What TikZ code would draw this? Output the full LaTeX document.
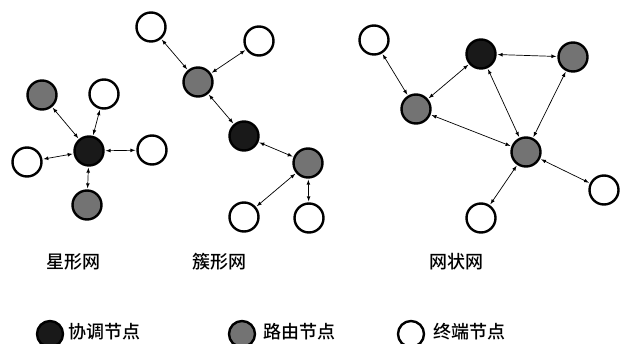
\documentclass[tikz,border=0pt]{standalone}
\usepackage{fontspec}
\newfontfamily\cjk{Noto Sans CJK SC Medium}[BoldFont={Noto Sans CJK SC Bold}]
\begin{document}
\begin{tikzpicture}
        [x=1pt, y=-1pt,
        nodeWhite/.style={circle,draw,line width=2.4pt,minimum size=29pt,inner sep=0pt,fill=white},
        nodeGray/.style={nodeWhite, fill=black!55},
        nodeBlack/.style={nodeWhite, fill=black!90},
        link/.style={<->, >=latex, line width=0.7pt, shorten <=1pt, shorten >=1pt},
        label/.style={font=\cjk\fontsize{18}{20}\selectfont, inner sep=0pt}]
        \useasboundingbox (0,0) rectangle (620,344);
        % star
        \node[nodeBlack] (S0) at (89,151) {};
        \node[nodeGray] (S1) at (42,95) {};
        \node[nodeWhite] (S2) at (104,94) {};
        \node[nodeWhite] (S3) at (27,162) {};
        \node[nodeWhite] (S4) at (152,150) {};
        \node[nodeGray] (S5) at (87,205) {};
        
        \draw[link] (S0) -- (S1);
        \draw[link] (S0) -- (S2);
        \draw[link] (S0) -- (S3);
        \draw[link] (S0) -- (S4);
        \draw[link] (S0) -- (S5);
        
        % cluster
        \node[nodeWhite] (C1) at (151,27) {};
        \node[nodeWhite] (C2) at (259,41) {};
        \node[nodeGray] (C3) at (198,82) {};
        \node[nodeBlack] (C0) at (244,136) {};
        \node[nodeGray] (C4) at (308,163) {};
        \node[nodeWhite] (C5) at (244,217) {};
        \node[nodeWhite] (C6) at (309,218) {};
        
        \draw[link] (C3) -- (C1);
        \draw[link] (C3) -- (C2);
        \draw[link] (C3) -- (C0);
        \draw[link] (C0) -- (C4);
        \draw[link] (C4) -- (C5);
        \draw[link] (C4) -- (C6);
        
        % mesh
        \node[nodeWhite] (M1) at (374,40) {};
        \node[nodeBlack] (M0) at (481,54) {};
        \node[nodeGray] (M2) at (573,57) {};
        \node[nodeGray] (M3) at (416,109) {};
        \node[nodeGray] (M4) at (526,152) {};
        \node[nodeWhite] (M5) at (604,190) {};
        \node[nodeWhite] (M6) at (481,218) {};
        
        \draw[link] (M3) -- (M1);
        \draw[link] (M3) -- (M0);
        \draw[link] (M0) -- (M2);
        \draw[link] (M0) -- (M4);
        \draw[link] (M2) -- (M4);
        \draw[link] (M3) -- (M4);
        \draw[link] (M4) -- (M5);
        \draw[link] (M4) -- (M6);
        
        \node[label] (T1) at (73,262) {星形网};
        \node[label] (T2) at (219,262) {簇形网};
        \node[label] (T3) at (456,262) {网状网};
        
        % legend
        \node[nodeBlack, minimum size=26pt] (L1) at (50,334) {};
        \node[label, anchor=west] (L1t) at (68,332) {协调节点};
        \node[nodeGray, minimum size=26pt] (L2) at (242,334) {};
        \node[label, anchor=west] (L2t) at (263,332) {路由节点};
        \node[nodeWhite, minimum size=26pt] (L3) at (411,334) {};
        \node[label, anchor=west] (L3t) at (433,332) {终端节点};
    \end{tikzpicture}
\end{document}
